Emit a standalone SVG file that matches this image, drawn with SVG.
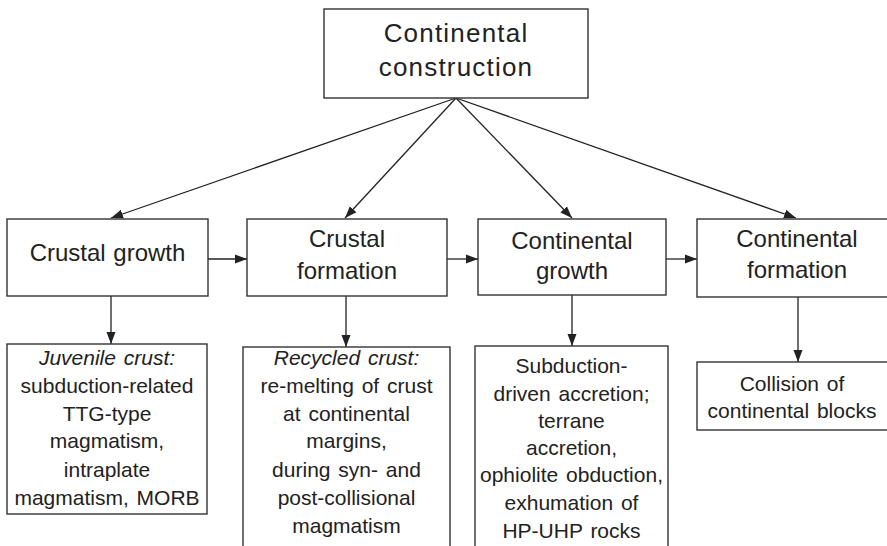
<svg xmlns="http://www.w3.org/2000/svg" width="887" height="546" viewBox="0 0 887 546">
<defs>
<marker id="ah" markerUnits="userSpaceOnUse" markerWidth="13" markerHeight="10" refX="12" refY="5" orient="auto">
<path d="M0,0.5 L12,5 L0,9.5 Z" fill="#222"/>
</marker>
<style>
.box{fill:#fff;stroke:#333;stroke-width:1.4}
.t{font-family:"Liberation Sans",Arial,sans-serif;fill:#222;text-anchor:middle}
.big{font-size:26px;letter-spacing:1.2px}
.mid{font-size:24px;word-spacing:1px}
.sm{font-size:21px;word-spacing:2px}
.it{font-style:italic}
.c{stroke:#222;stroke-width:1.3;fill:none;marker-end:url(#ah)}
</style>
</defs>
<rect width="887" height="546" fill="#fff"/>
<g id="connectors">
<line class="c" x1="456" y1="98" x2="111" y2="218"/>
<line class="c" x1="456" y1="98" x2="345" y2="218"/>
<line class="c" x1="456" y1="98" x2="572" y2="218"/>
<line class="c" x1="456" y1="98" x2="796" y2="218"/>
<line class="c" x1="208" y1="259" x2="247" y2="259"/>
<line class="c" x1="447" y1="259" x2="478" y2="259"/>
<line class="c" x1="666" y1="259" x2="697" y2="259"/>
<line class="c" x1="111" y1="296" x2="111" y2="344"/>
<line class="c" x1="346" y1="296" x2="346" y2="347"/>
<line class="c" x1="572" y1="295" x2="572" y2="346"/>
<line class="c" x1="798" y1="297" x2="798" y2="362"/>
</g>
<g id="n-construction">
<rect class="box" x="324" y="9" width="264" height="89"/>
<text class="t big" x="456" y="42">Continental</text>
<text class="t big" x="456" y="76">construction</text>
</g>
<g id="n-crustal-growth">
<rect class="box" x="7" y="219" width="201" height="77"/>
<text class="t mid" x="107.5" y="261">Crustal growth</text>
</g>
<g id="n-crustal-formation">
<rect class="box" x="247" y="219" width="200" height="77"/>
<text class="t mid" x="347" y="247">Crustal</text>
<text class="t mid" x="347" y="279">formation</text>
</g>
<g id="n-continental-growth">
<rect class="box" x="478" y="219" width="188" height="76"/>
<text class="t mid" x="572" y="249">Continental</text>
<text class="t mid" x="572" y="279">growth</text>
</g>
<g id="n-continental-formation">
<rect class="box" x="697" y="219" width="200" height="78"/>
<text class="t mid" x="797" y="247">Continental</text>
<text class="t mid" x="797" y="278">formation</text>
</g>
<g id="n-juvenile">
<rect class="box" x="7" y="344" width="200" height="170"/>
<text class="t sm it" x="107" y="365">Juvenile crust:</text>
<text class="t sm" x="107" y="393">subduction-related</text>
<text class="t sm" x="107" y="421">TTG-type</text>
<text class="t sm" x="107" y="448">magmatism,</text>
<text class="t sm" x="107" y="477">intraplate</text>
<text class="t sm" x="107" y="505">magmatism, MORB</text>
</g>
<g id="n-recycled">
<rect class="box" x="243" y="347" width="207" height="210"/>
<text class="t sm it" x="346.5" y="365">Recycled crust:</text>
<text class="t sm" x="346.5" y="393">re-melting of crust</text>
<text class="t sm" x="346.5" y="421">at continental</text>
<text class="t sm" x="346.5" y="448">margins,</text>
<text class="t sm" x="346.5" y="477">during syn- and</text>
<text class="t sm" x="346.5" y="505">post-collisional</text>
<text class="t sm" x="346.5" y="533">magmatism</text>
</g>
<g id="n-subduction">
<rect class="box" x="475" y="346" width="193" height="210"/>
<text class="t sm" x="571.5" y="373">Subduction-</text>
<text class="t sm" x="571.5" y="401">driven accretion;</text>
<text class="t sm" x="571.5" y="428">terrane</text>
<text class="t sm" x="571.5" y="455">accretion,</text>
<text class="t sm" x="571.5" y="482">ophiolite obduction,</text>
<text class="t sm" x="571.5" y="510">exhumation of</text>
<text class="t sm" x="571.5" y="538">HP-UHP rocks</text>
</g>
<g id="n-collision">
<rect class="box" x="697" y="362" width="200" height="68"/>
<text class="t sm" x="792" y="391">Collision of</text>
<text class="t sm" x="792" y="418">continental blocks</text>
</g>
</svg>
